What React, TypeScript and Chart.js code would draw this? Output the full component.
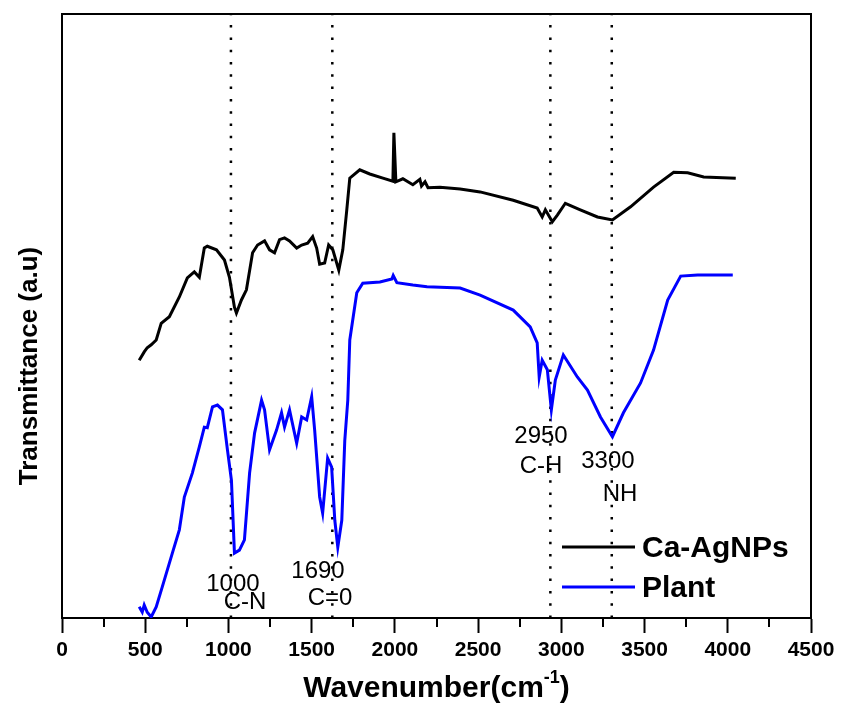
import { useEffect, useRef } from "react";
import { Chart, registerables } from "chart.js";

Chart.register(...registerables);

// ---- data (wavenumber in cm-1, transmittance in a.u.) ----
const caWavenumber = [464, 494, 512, 536, 566, 596, 645, 705, 753, 795, 825, 855, 873, 928, 976, 1006, 1036, 1048, 1078, 1108, 1145, 1175, 1217, 1247, 1277, 1307, 1337, 1367, 1410, 1440, 1476, 1506, 1530, 1548, 1578, 1602, 1627, 1663, 1687, 1711, 1729, 1789, 1849, 1928, 1988, 1994, 2006, 2048, 2108, 2150, 2160, 2181, 2199, 2271, 2392, 2512, 2711, 2855, 2885, 2904, 2946, 2976, 3024, 3114, 3217, 3307, 3416, 3554, 3675, 3759, 3855, 4048];
const caTransmittance = [43.0, 44.4, 45.1, 45.6, 46.4, 49.2, 50.3, 53.6, 56.8, 57.8, 56.9, 61.8, 62.1, 61.5, 59.8, 56.9, 51.9, 50.9, 53.1, 54.8, 61.0, 62.3, 63.0, 61.5, 61.0, 63.2, 63.5, 63.0, 61.8, 62.3, 62.6, 63.7, 61.8, 59.1, 59.3, 62.3, 61.5, 58.1, 61.5, 68.2, 73.5, 74.9, 74.2, 73.5, 73.0, 81.1, 72.9, 73.4, 72.4, 73.3, 72.2, 72.9, 71.9, 72.0, 71.7, 71.2, 69.8, 68.5, 67.0, 68.2, 66.2, 67.3, 69.3, 68.2, 67.0, 66.5, 68.7, 72.0, 74.5, 74.4, 73.7, 73.5];

const plantWavenumber = [464, 482, 494, 512, 536, 566, 602, 663, 705, 735, 783, 825, 855, 873, 904, 934, 964, 994, 1018, 1036, 1066, 1096, 1127, 1157, 1199, 1217, 1247, 1289, 1319, 1337, 1367, 1410, 1440, 1470, 1500, 1518, 1548, 1566, 1596, 1620, 1639, 1657, 1681, 1699, 1717, 1729, 1771, 1807, 1910, 1982, 1990, 2012, 2108, 2193, 2392, 2512, 2711, 2813, 2855, 2867, 2885, 2916, 2940, 2964, 3012, 3096, 3157, 3235, 3307, 3373, 3476, 3554, 3639, 3717, 3819, 4030];
const plantTransmittance = [1.7, 0.8, 2.0, 0.8, 0.0, 1.7, 5.0, 10.7, 14.6, 20.1, 24.1, 28.5, 31.8, 31.7, 35.2, 35.5, 34.7, 28.0, 22.9, 10.7, 11.2, 12.9, 24.1, 30.8, 36.3, 34.7, 28.0, 31.3, 34.2, 31.8, 34.7, 29.1, 33.5, 33.0, 36.9, 31.3, 20.1, 17.4, 26.6, 25.1, 16.2, 11.7, 16.2, 29.6, 36.3, 46.4, 54.3, 55.9, 56.1, 56.6, 57.2, 56.0, 55.6, 55.3, 55.1, 53.9, 51.4, 48.6, 45.9, 40.2, 43.0, 41.4, 34.7, 39.7, 43.9, 40.2, 38.0, 33.5, 30.2, 34.2, 39.2, 44.7, 53.1, 57.1, 57.3, 57.3];

const markerWavenumbers = [1015, 1624, 2934, 3303];
const xTickValues = [0, 500, 1000, 1500, 2000, 2500, 3000, 3500, 4000, 4500];
const xMinorTickValues = [250, 750, 1250, 1750, 2250, 2750, 3250, 3750, 4250];
const seriesNames = ["Ca-AgNPs", "Plant"];
const seriesColors = ["#000000", "#0000ff"];
const peakLabelTexts = ["1000", "C-N", "1690", "C=0", "2950", "C-H", "3300", "NH"];
const peakLabelWavenumbers = [1027, 1100, 1538, 1610, 2878, 2878, 3280, 3353];
const peakLabelTransmittance = [5.5, 2.5, 7.7, 3.2, 30.3, 25.3, 26.1, 20.6];
const xTitleMain = "Wavenumber(cm";
const xTitleSup = "-1";
const xTitleEnd = ")";
const yTitle = "Transmittance (a.u)";

const Y_MIN = -0.17;
const Y_MAX = 101;
const FONT = '"Liberation Sans", Arial, sans-serif';

const decorPlugin = {
  id: "decor",
  beforeDatasetsDraw(chart: any) {
    const { ctx, scales } = chart;
    const x = scales.x;
    const y = scales.y;
    ctx.save();
    ctx.fillStyle = "#000";
    ctx.font = `24px ${FONT}`;
    ctx.textAlign = "center";
    ctx.textBaseline = "middle";
    peakLabelTexts.forEach((t, i) => {
      ctx.fillText(t, x.getPixelForValue(peakLabelWavenumbers[i]), y.getPixelForValue(peakLabelTransmittance[i]));
    });
    ctx.restore();
  },
  afterDraw(chart: any) {
    const { ctx, chartArea: a, scales } = chart;
    const x = scales.x;
    ctx.save();
    ctx.strokeStyle = "#000";
    ctx.lineWidth = 2;
    // top and right frame
    ctx.beginPath();
    ctx.moveTo(a.left, a.top);
    ctx.lineTo(a.right, a.top);
    ctx.lineTo(a.right, a.bottom);
    ctx.stroke();
    // minor ticks
    ctx.beginPath();
    xMinorTickValues.forEach((v) => {
      const px = Math.round(x.getPixelForValue(v));
      ctx.moveTo(px, a.bottom);
      ctx.lineTo(px, a.bottom + 9);
    });
    ctx.stroke();

    // legend
    const lx0 = a.right - 249;
    const lx1 = a.right - 176;
    const ly = [a.top + 533, a.top + 573];
    ctx.lineWidth = 3;
    seriesNames.forEach((name, i) => {
      ctx.strokeStyle = seriesColors[i];
      ctx.beginPath();
      ctx.moveTo(lx0, ly[i]);
      ctx.lineTo(lx1, ly[i]);
      ctx.stroke();
      ctx.fillStyle = "#000";
      ctx.font = `bold 30px ${FONT}`;
      ctx.textAlign = "left";
      ctx.textBaseline = "alphabetic";
      ctx.fillText(name, a.right - 169, ly[i] + 10);
    });

    // x title
    ctx.fillStyle = "#000";
    ctx.textBaseline = "alphabetic";
    ctx.textAlign = "left";
    const mainFont = `bold 30px ${FONT}`;
    const supFont = `bold 18px ${FONT}`;
    ctx.font = mainFont;
    const w1 = ctx.measureText(xTitleMain).width;
    const w3 = ctx.measureText(xTitleEnd).width;
    ctx.font = supFont;
    const w2 = ctx.measureText(xTitleSup).width;
    const cx = (a.left + a.right) / 2;
    const base = a.bottom + 79;
    let sx = cx - (w1 + w2 + w3) / 2;
    ctx.font = mainFont;
    ctx.fillText(xTitleMain, sx, base);
    sx += w1;
    ctx.font = supFont;
    ctx.fillText(xTitleSup, sx, base - 14);
    sx += w2;
    ctx.font = mainFont;
    ctx.fillText(xTitleEnd, sx, base);

    // y title
    ctx.translate(37, 366);
    ctx.rotate(-Math.PI / 2);
    ctx.font = `bold 26px ${FONT}`;
    ctx.textAlign = "center";
    ctx.fillText(yTitle, 0, 0);
    ctx.restore();
  },
};

export default function App() {
  const ref = useRef<HTMLCanvasElement | null>(null);
  useEffect(() => {
    if (!ref.current) return;
    const curves = [
      { name: seriesNames[0], xs: caWavenumber, ys: caTransmittance, color: seriesColors[0] },
      { name: seriesNames[1], xs: plantWavenumber, ys: plantTransmittance, color: seriesColors[1] },
    ].map((s) => ({
      label: s.name,
      data: s.xs.map((v, i) => ({ x: v, y: s.ys[i] })),
      borderColor: s.color,
      borderWidth: 3,
      pointRadius: 0,
      tension: 0,
      fill: false,
    }));
    const markers = markerWavenumbers.map((m) => ({
      label: "marker",
      data: [
        { x: m, y: Y_MIN },
        { x: m, y: Y_MAX },
      ],
      borderColor: "#000",
      borderWidth: 2.5,
      borderDash: [2.5, 9.8],
      pointRadius: 0,
      fill: false,
    }));
    const chart = new Chart(ref.current, {
      type: "line",
      data: { datasets: [...curves, ...markers] as any },
      plugins: [decorPlugin],
      options: {
        responsive: false,
        animation: false,
        devicePixelRatio: 1,
        layout: { padding: { left: 0, top: 14, right: 33, bottom: 0 } },
        plugins: { legend: { display: false }, tooltip: { enabled: false } },
        scales: {
          x: {
            type: "linear",
            min: 0,
            max: 4500,
            afterFit: (s: any) => {
              s.height = 88;
            },
            afterBuildTicks: (s: any) => {
              s.ticks = xTickValues.map((v) => ({ value: v }));
            },
            ticks: {
              color: "#000",
              font: { family: FONT, size: 21, weight: "bold" },
              padding: 5,
              maxRotation: 0,
              autoSkip: false,
              callback: (v: any) => String(v),
            },
            grid: { drawOnChartArea: false, drawTicks: true, tickLength: 15, tickWidth: 2, color: "#000" },
            border: { display: true, color: "#000", width: 2 },
          },
          y: {
            type: "linear",
            min: Y_MIN,
            max: Y_MAX,
            afterFit: (s: any) => {
              s.width = 62;
            },
            ticks: { display: false },
            grid: { display: false },
            border: { display: true, color: "#000", width: 2 },
          },
        },
      } as any,
    });
    return () => chart.destroy();
  }, []);
  return (
    <div style={{ position: "absolute", left: 0, top: 0, width: 844, height: 706, background: "#fff" }}>
      <canvas ref={ref} width={844} height={706} style={{ width: 844, height: 706 }} />
    </div>
  );
}
